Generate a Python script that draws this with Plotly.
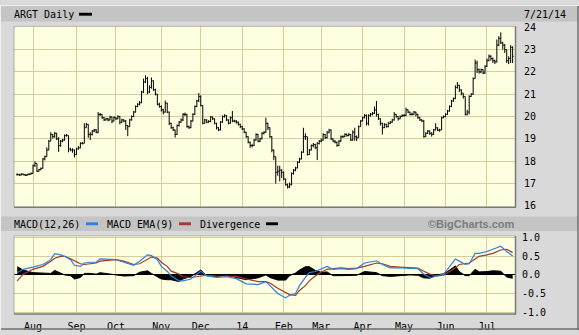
import numpy as np
import pandas as pd
import plotly.graph_objects as go

W, H = 579, 335

# ---------------- data ----------------
holidays = ["2013-09-02", "2013-11-28", "2013-12-25", "2014-01-01", "2014-01-20",
            "2014-02-17", "2014-04-18", "2014-05-26", "2014-07-04"]
bd = pd.bdate_range("2013-07-22", "2014-07-21")
dates = bd[~bd.isin(pd.to_datetime(holidays))]

close = [
    17.40, 17.38, 17.42, 17.40, 17.37, 17.40, 17.42, 17.45, 17.80, 17.90,
    17.55, 17.62, 17.68, 18.10, 18.20, 18.50, 18.90, 19.20, 19.10, 19.25,
    19.00, 18.70, 18.90, 18.95, 19.15, 19.15, 18.55, 18.50, 18.50, 18.30,
    18.55, 18.60, 18.80, 18.80, 19.50, 19.65, 19.20, 19.20, 19.35, 19.40,
    19.30, 20.10, 20.10, 19.95, 19.85, 19.90, 19.85, 19.98, 19.80, 19.95,
    19.90, 20.00, 19.75, 19.85, 19.80, 19.60, 19.55, 19.85, 20.00, 20.20,
    20.45, 20.55, 20.62, 21.10, 21.55, 21.70, 21.10, 21.30, 21.60, 21.20,
    21.00, 20.55, 20.45, 20.30, 20.20, 20.60, 20.20, 19.70, 19.50, 19.40,
    19.20, 19.60, 19.75, 19.85, 20.10, 20.10, 19.55, 19.50, 19.80, 20.10,
    20.45, 20.70, 20.90, 20.50, 19.70, 19.85, 19.75, 19.78, 19.98, 19.90,
    19.70, 19.50, 19.40, 19.75, 20.00, 20.05, 19.85, 19.70, 19.95, 19.80,
    19.80, 19.75, 19.65, 19.55, 19.45, 19.30, 19.10, 18.85, 18.70, 18.70,
    18.95, 19.20, 18.90, 19.00, 19.25, 19.30, 19.70, 19.50, 19.10, 18.50,
    18.20, 17.50, 17.55, 17.60, 17.50, 17.20, 16.95, 16.85, 16.95, 17.45,
    17.60, 17.70, 17.95, 18.10, 18.40, 19.10, 19.10, 18.30, 18.50, 18.70,
    18.75, 18.60, 18.80, 18.90, 18.95, 19.20, 19.05, 19.30, 19.40, 19.00,
    18.90, 18.85, 18.70, 18.90, 19.10, 19.10, 19.20, 19.15, 19.20, 18.95,
    19.30, 19.10, 19.05, 19.55, 19.80, 19.95, 20.05, 19.70, 20.05, 20.10,
    20.15, 20.30, 20.10, 19.90, 19.70, 19.50, 19.65, 19.55, 19.70, 19.75,
    19.85, 20.10, 20.00, 19.90, 20.00, 20.05, 20.05, 20.30, 20.20, 20.10,
    20.10, 20.20, 20.10, 19.95, 19.85, 19.80, 19.10, 19.25, 19.35, 19.25,
    19.20, 19.40, 19.50, 19.40, 19.40, 19.95, 20.00, 20.10, 20.25, 20.45,
    20.70, 20.80, 21.30, 21.40, 21.20, 21.05, 20.90, 20.10, 20.20, 20.90,
    21.00, 21.70, 22.40, 22.10, 22.00, 22.10, 21.95, 22.25, 22.50, 22.70,
    22.60, 22.50, 22.45, 23.20, 23.50, 23.30, 23.20, 23.00, 22.50, 22.60,
    23.10, 22.70,
]
high = [
    17.46, 17.44, 17.46, 17.45, 17.43, 17.44, 17.46, 17.50, 17.85, 18.00,
    17.62, 17.66, 17.72, 18.15, 18.26, 18.62, 18.95, 19.30, 19.22, 19.32,
    19.27, 19.08, 18.95, 19.00, 19.20, 19.22, 18.65, 18.60, 18.58, 18.52,
    18.60, 18.68, 18.85, 18.86, 19.70, 19.72, 19.66, 19.30, 19.40, 19.45,
    19.44, 20.20, 20.16, 20.08, 19.98, 19.95, 19.94, 20.04, 20.00, 20.02,
    19.98, 20.06, 20.02, 19.90, 19.88, 19.85, 19.62, 19.90, 20.05, 20.25,
    20.50, 20.60, 20.70, 21.15, 21.70, 21.85, 21.78, 21.40, 21.75, 21.62,
    21.25, 21.02, 20.62, 20.50, 20.35, 20.72, 20.62, 20.22, 19.72, 19.55,
    19.42, 19.65, 19.80, 19.92, 20.15, 20.18, 20.12, 19.60, 19.85, 20.15,
    20.50, 20.75, 21.05, 20.95, 20.40, 19.90, 19.88, 19.84, 20.02, 20.00,
    19.92, 19.72, 19.52, 19.80, 20.05, 20.10, 20.06, 19.88, 20.00, 20.25,
    19.86, 19.84, 19.78, 19.68, 19.58, 19.48, 19.32, 19.12, 18.88, 18.78,
    19.00, 19.25, 19.22, 19.05, 19.30, 19.35, 19.95, 19.72, 19.52, 19.12,
    18.52, 18.20, 17.80, 17.80, 17.65, 17.55, 17.22, 17.00, 17.05, 17.50,
    17.65, 17.75, 18.00, 18.15, 18.45, 19.50, 19.25, 19.05, 18.55, 18.75,
    18.82, 18.78, 18.85, 18.95, 19.02, 19.25, 19.22, 19.35, 19.45, 19.42,
    19.04, 18.95, 18.88, 18.95, 19.15, 19.16, 19.25, 19.24, 19.26, 19.22,
    19.38, 19.50, 19.15, 19.60, 19.85, 20.00, 20.12, 20.10, 20.10, 20.16,
    20.20, 20.45, 20.70, 20.12, 19.92, 19.72, 19.70, 19.68, 19.75, 19.80,
    19.90, 20.20, 20.12, 20.02, 20.05, 20.10, 20.12, 20.40, 20.32, 20.22,
    20.18, 20.25, 20.22, 20.12, 19.98, 19.88, 19.85, 19.30, 19.40, 19.38,
    19.30, 19.45, 19.70, 19.52, 19.45, 20.00, 20.05, 20.15, 20.30, 20.50,
    20.75, 20.86, 21.40, 21.55, 21.42, 21.22, 21.05, 20.90, 20.30, 20.95,
    21.05, 21.75, 22.55, 22.50, 22.15, 22.15, 22.12, 22.30, 22.60, 22.78,
    22.75, 22.65, 22.55, 23.45, 23.60, 23.77, 23.35, 23.25, 23.00, 22.70,
    23.20, 23.15,
]
low = [
    17.36, 17.35, 17.36, 17.37, 17.34, 17.35, 17.38, 17.40, 17.60, 17.75,
    17.52, 17.53, 17.60, 18.00, 18.04, 18.25, 18.55, 18.93, 19.02, 19.05,
    18.95, 18.42, 18.65, 18.85, 18.92, 19.10, 18.40, 18.45, 18.38, 18.17,
    18.28, 18.52, 18.58, 18.75, 18.85, 19.50, 19.05, 18.95, 19.15, 19.30,
    19.25, 19.25, 20.02, 19.90, 19.80, 19.82, 19.78, 19.83, 19.70, 19.78,
    19.85, 19.88, 19.65, 19.72, 19.74, 19.40, 19.12, 19.55, 19.82, 19.98,
    20.18, 20.42, 20.50, 20.60, 21.05, 21.50, 21.00, 21.05, 21.25, 21.15,
    20.95, 20.50, 20.40, 20.22, 20.10, 20.18, 20.15, 19.62, 19.45, 19.35,
    19.06, 19.18, 19.55, 19.72, 19.80, 20.02, 19.50, 19.45, 19.48, 19.78,
    20.08, 20.42, 20.65, 20.45, 19.65, 19.68, 19.70, 19.72, 19.75, 19.85,
    19.65, 19.42, 19.35, 19.38, 19.72, 19.95, 19.80, 19.65, 19.68, 19.75,
    19.74, 19.68, 19.60, 19.48, 19.40, 19.25, 19.05, 18.80, 18.60, 18.62,
    18.68, 18.92, 18.85, 18.85, 18.98, 19.20, 19.28, 19.40, 19.05, 18.40,
    18.05, 17.00, 17.35, 17.10, 17.25, 17.15, 16.90, 16.78, 16.80, 16.92,
    17.40, 17.55, 17.68, 17.92, 18.08, 18.38, 18.95, 18.25, 18.28, 18.48,
    18.62, 18.55, 18.05, 18.75, 18.85, 18.92, 19.00, 19.02, 19.25, 18.95,
    18.85, 18.80, 18.65, 18.68, 18.88, 19.04, 19.08, 19.10, 19.12, 18.90,
    18.92, 18.92, 18.90, 19.50, 19.55, 19.78, 19.92, 19.60, 19.60, 20.00,
    20.05, 20.12, 20.00, 19.85, 19.60, 19.20, 19.48, 19.50, 19.52, 19.66,
    19.72, 19.82, 19.95, 19.82, 19.88, 19.98, 20.00, 20.02, 20.15, 20.05,
    20.05, 20.08, 20.00, 19.90, 19.80, 19.75, 19.05, 19.08, 19.22, 19.18,
    19.10, 19.18, 19.38, 19.35, 19.32, 19.90, 19.92, 19.98, 20.08, 20.22,
    20.42, 20.66, 20.78, 21.25, 21.10, 20.95, 20.80, 20.05, 20.05, 20.10,
    20.88, 20.98, 21.70, 21.95, 21.92, 21.95, 21.90, 21.92, 22.22, 22.48,
    22.50, 22.40, 22.35, 22.42, 23.15, 23.25, 23.00, 22.85, 22.40, 22.35,
    22.40, 22.40,
]

# MACD panel, sampled (trading-day index of each sample)
macd_day = [0, 3, 8, 13, 17, 19, 22, 24, 27, 29,
            32, 34, 37, 40, 42, 46, 50, 54, 59, 62,
            66, 68, 71, 73, 76, 78, 82, 84, 88, 91,
            93, 96, 101, 106, 111, 116, 122, 126, 128, 132,
            136, 138, 141, 143, 146, 148, 151, 154, 157, 160,
            164, 168, 172, 176, 180, 182, 185, 189, 194, 199,
            203, 206, 209, 213, 216, 218, 222, 224, 227, 229,
            232, 234, 238, 241, 245, 248, 251]
macd = [0.06, 0.15, 0.21, 0.28, 0.41, 0.57, 0.54, 0.50, 0.41, 0.26,
        0.23, 0.32, 0.34, 0.34, 0.43, 0.43, 0.41, 0.34, 0.26, 0.37,
        0.54, 0.52, 0.41, 0.23, 0.10, -0.03, -0.16, -0.16, -0.11, 0.02,
        0.10, -0.03, -0.07, -0.05, -0.10, -0.24, -0.26, -0.18, -0.29, -0.50,
        -0.62, -0.55, -0.50, -0.29, -0.07, 0.06, 0.09, 0.15, 0.23, 0.15,
        0.17, 0.15, 0.17, 0.32, 0.37, 0.38, 0.28, 0.19, 0.19, 0.19,
        0.17, 0.02, -0.07, -0.03, 0.02, 0.15, 0.43, 0.37, 0.28, 0.30,
        0.58, 0.58, 0.63, 0.69, 0.77, 0.63, 0.51]
signal = [-0.16, 0.02, 0.15, 0.23, 0.37, 0.45, 0.50, 0.50, 0.43, 0.37,
          0.30, 0.28, 0.30, 0.32, 0.37, 0.39, 0.41, 0.37, 0.28, 0.30,
          0.43, 0.48, 0.45, 0.34, 0.23, 0.10, 0.02, -0.05, -0.07, -0.05,
          -0.03, -0.01, -0.03, -0.04, -0.04, -0.11, -0.18, -0.18, -0.22, -0.36,
          -0.48, -0.53, -0.55, -0.42, -0.29, -0.16, -0.03, 0.08, 0.15, 0.17,
          0.19, 0.17, 0.18, 0.23, 0.30, 0.32, 0.30, 0.23, 0.21, 0.19,
          0.18, 0.10, 0.02, -0.03, -0.01, 0.06, 0.19, 0.28, 0.30, 0.32,
          0.43, 0.50, 0.54, 0.58, 0.67, 0.69, 0.60]

month_labels = ["Aug", "Sep", "Oct", "Nov", "Dec", "14", "Feb", "Mar", "Apr", "May", "Jun", "Jul"]
price_ticks = [16, 17, 18, 19, 20, 21, 22, 23, 24]
macd_ticks = [-1.0, -0.5, 0.0, 0.5, 1.0]
macd_ticktext = ["-1.0", "-0.5", "0.0", "0.5", "1.0"]

# ---------------- derived ----------------
n = min(len(dates), len(close))
idx = np.arange(n)
c = np.array(close[:n])
o = np.concatenate([[c[0]], c[:-1]])
h = np.maximum(np.array(high[:n]), np.maximum(o, c))
l = np.minimum(np.array(low[:n]), np.minimum(o, c))
div = [m - s for m, s in zip(macd, signal)]
month_start = [i for i in range(1, n) if dates[i].month != dates[i - 1].month]

# ---------------- geometry helpers ----------------
def X(px):
    return px / W

def Y(py):
    return 1 - py / H

PL, PR = 14, 515
P1T, P1B = 22, 208
P2T, P2B = 238, 318

MONO = "DejaVu Sans Mono"
GRID = "#d2cf9c"
BG = "#fefee0"

fig = go.Figure()
fig.add_trace(go.Ohlc(
    x=idx, open=o, high=h, low=l, close=c,
    increasing=dict(line=dict(color="black", width=1)),
    decreasing=dict(line=dict(color="black", width=1)),
    tickwidth=0.5, xaxis="x", yaxis="y", hoverinfo="skip", showlegend=False))

fig.add_trace(go.Scatter(
    x=macd_day, y=div, mode="lines", fill="tozeroy", fillcolor="black",
    line=dict(color="black", width=1), xaxis="x2", yaxis="y2", showlegend=False,
    hoverinfo="skip"))
fig.add_trace(go.Scatter(
    x=macd_day, y=signal, mode="lines", line=dict(color="#a23a30", width=1.2),
    xaxis="x2", yaxis="y2", showlegend=False, hoverinfo="skip"))
fig.add_trace(go.Scatter(
    x=macd_day, y=macd, mode="lines", line=dict(color="#2f7fe0", width=1.2),
    xaxis="x2", yaxis="y2", showlegend=False, hoverinfo="skip"))

xr = [-1.63, 252.2]
common_x = dict(range=xr, domain=[X(PL), X(PR)], tickvals=month_start,
                showgrid=True, gridcolor=GRID, gridwidth=1, zeroline=False,
                fixedrange=True, showline=False)
fig.update_layout(
    width=W, height=H,
    margin=dict(l=0, r=0, t=0, b=0),
    paper_bgcolor="#d9d9d9",
    plot_bgcolor=BG,
    xaxis=dict(**common_x, anchor="y", showticklabels=False, ticks="",
               rangeslider=dict(visible=False)),
    yaxis=dict(domain=[Y(P1B), Y(P1T)], range=[15.96, 24.04], side="right",
               tickvals=price_ticks, ticks="", ticklabelstandoff=8,
               showgrid=True, gridcolor=GRID, zeroline=False, fixedrange=True,
               tickfont=dict(family=MONO, size=10, color="black"), anchor="x"),
    xaxis2=dict(**common_x, anchor="y2", ticktext=month_labels, ticks="",
                tickfont=dict(family=MONO, size=10, color="black"),
                ticklabelstandoff=5),
    yaxis2=dict(domain=[Y(P2B), Y(P2T)], range=[-1.04, 1.05], side="right",
                tickvals=macd_ticks, ticktext=macd_ticktext, ticks="",
                ticklabelstandoff=6, showgrid=True, gridcolor=GRID,
                zeroline=True, zerolinecolor="black", zerolinewidth=1,
                fixedrange=True, anchor="x2",
                tickfont=dict(family=MONO, size=10, color="black")),
    font=dict(family=MONO, size=10, color="black"),
)

shapes = []
def rect(x0, y0, x1, y1, fill, line=None, lw=0, layer="below"):
    shapes.append(dict(type="rect", xref="paper", yref="paper",
                       x0=X(x0), x1=X(x1), y0=Y(y1), y1=Y(y0),
                       fillcolor=fill, line=dict(color=line or fill, width=lw),
                       layer=layer))

def hline(x0, x1, y, color, w=1):
    shapes.append(dict(type="line", xref="paper", yref="paper", x0=X(x0), x1=X(x1),
                       y0=Y(y), y1=Y(y), line=dict(color=color, width=w), layer="above"))

def vline(x, y0, y1, color, w=1):
    shapes.append(dict(type="line", xref="paper", yref="paper", x0=X(x), x1=X(x),
                       y0=Y(y0), y1=Y(y1), line=dict(color=color, width=w), layer="above"))

# header bars
rect(1, 1, 578, 17, "#c4c4c4")
rect(1, 218, 578, 233, "#c4c4c4")
# plot frames
for top, bot in [(P1T, P1B), (P2T, P2B)]:
    hline(PL, PR, top, "#b5b5a5")
    vline(PL, top, bot, "#a8a8a8")
    hline(PL, PR + 1, bot + 0.5, "#7a7a7a", 1.5)
    vline(PR + 0.5, top, bot + 1, "#7a7a7a", 1.5)
# outer border
vline(578, 0, 335, "#6e6e6e", 1.5)
hline(0, 579, 334, "#6e6e6e", 1.5)
vline(0.5, 0, 335, "#f0f0f0", 1)
hline(0, 579, 0.5, "#f0f0f0", 1)
# legend swatches
rect(79, 8, 92, 11, "black", layer="above")
rect(86, 224, 98, 227, "#2f7fe0", layer="above")
rect(179, 224, 191, 227, "#a23a30", layer="above")
rect(266, 224, 278, 227, "black", layer="above")
fig.update_layout(shapes=shapes)

def text(x, y, s, anchor="left", font=None):
    return dict(x=X(x), y=Y(y), xref="paper", yref="paper", text=s, showarrow=False,
                xanchor=anchor, yanchor="middle",
                font=font or dict(family=MONO, size=10, color="black"),
                borderpad=0)

fig.update_layout(annotations=[
    text(13, 10, "ARGT Daily"),
    text(523, 10, "7/21/14"),
    text(13, 226, "MACD(12,26)"),
    text(106, 226, "MACD EMA(9)"),
    text(199, 226, "Divergence"),
    text(516, 226, "©BigCharts.com", anchor="right",
         font=dict(family="Liberation Sans", size=11, color="#7c7c7c", weight="bold")),
])

fig.write_html("out.html")
